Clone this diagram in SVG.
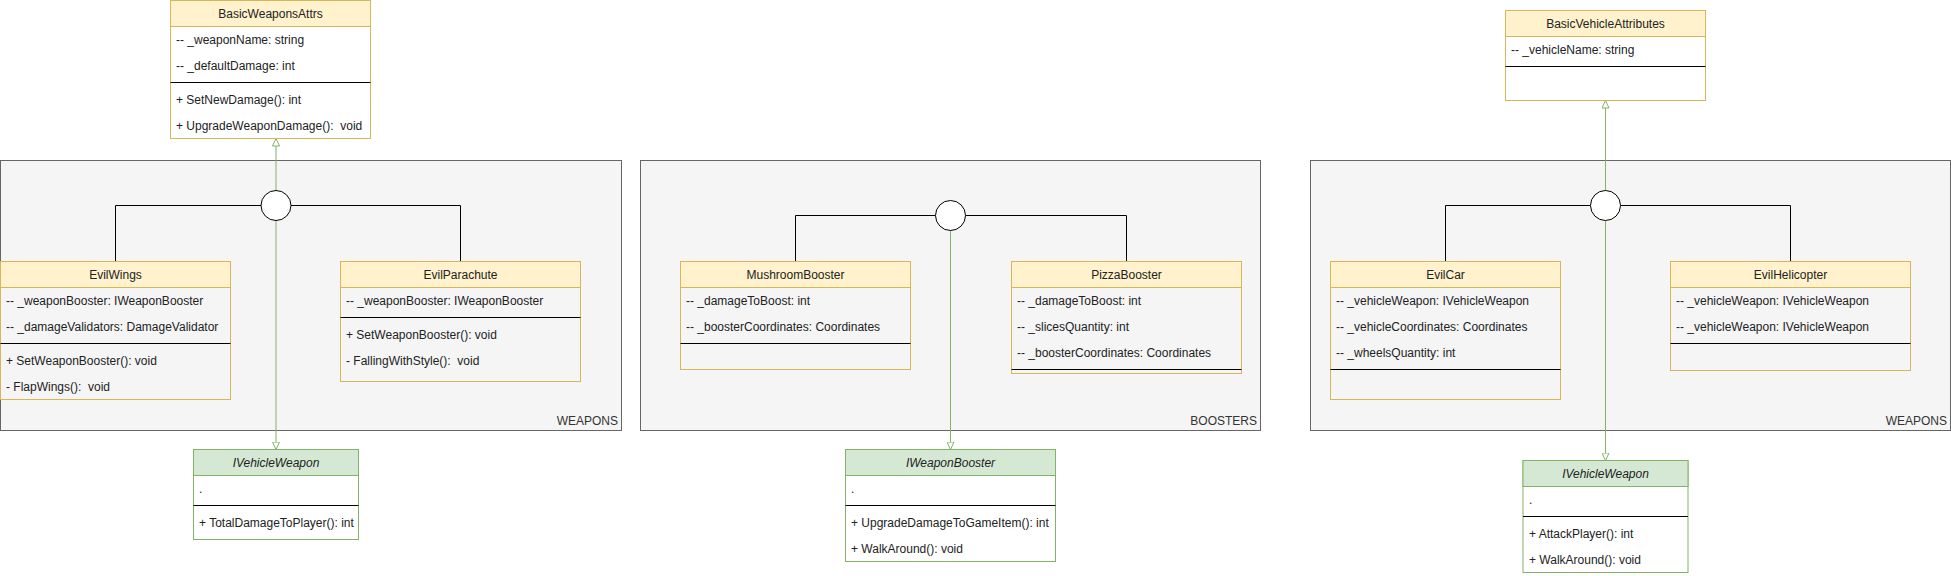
<svg xmlns="http://www.w3.org/2000/svg" width="1951" height="576" viewBox="0 0 1951 576">
<style>
text{font-family:"Liberation Sans",Arial,Helvetica,sans-serif;font-size:12px;fill:#222}
.t{text-anchor:middle}
.it{font-style:italic}
.lbl{text-anchor:end;fill:#333}
.cont{fill:#f5f5f5;stroke:#666666;stroke-width:1}
.hy{fill:#fff2cc;stroke:#d6b656;stroke-width:1}
.by{fill:none;stroke:#d6b656;stroke-width:1}
.bw{fill:#ffffff;stroke:#d6b656;stroke-width:1}
.hg{fill:#d5e8d4;stroke:#82b366;stroke-width:1}
.bg{fill:#ffffff;stroke:#82b366;stroke-width:1}
.sep{stroke:#000;stroke-width:1}
.blk{fill:none;stroke:#000;stroke-width:1}
.grn{fill:none;stroke:#82b366;stroke-width:1;marker-end:url(#tri)}
.junc{fill:#fff;stroke:#000;stroke-width:1}
</style>
<defs>
<marker id="tri" viewBox="0 0 8 8" refX="8" refY="4" markerWidth="8" markerHeight="8" markerUnits="userSpaceOnUse" orient="auto">
<path d="M0.5,0.5 L8,4 L0.5,7.5 z" fill="#fff" stroke="#82b366" stroke-width="1"/>
</marker>
</defs>
<rect width="1951" height="576" fill="#fff"/>

<g id="container-weapons-left">
<rect class="cont" x="0.5" y="160.5" width="621" height="270"/>
<text class="lbl" x="618" y="425">WEAPONS</text>
</g>
<g id="container-boosters">
<rect class="cont" x="640.5" y="160.5" width="620" height="270"/>
<text class="lbl" x="1257" y="425">BOOSTERS</text>
</g>
<g id="container-weapons-right">
<rect class="cont" x="1310.5" y="160.5" width="640" height="270"/>
<text class="lbl" x="1947" y="425">WEAPONS</text>
</g>

<g id="connectors">
<path class="blk" d="M261,205.5 H115.5 V261.5"/>
<path class="blk" d="M291,205.5 H460.5 V261.5"/>
<path class="grn" d="M276,190.5 V138.5"/>
<path class="grn" d="M276,220.5 V449.5"/>
<path class="blk" d="M935.5,215.5 H795.5 V261.5"/>
<path class="blk" d="M965.5,215.5 H1126.5 V261.5"/>
<path class="grn" d="M950.5,230.5 V449.5"/>
<path class="blk" d="M1590.5,205.5 H1445.5 V261.5"/>
<path class="blk" d="M1620.5,205.5 H1790.5 V261.5"/>
<path class="grn" d="M1605.5,190.5 V100.5"/>
<path class="grn" d="M1605.5,220.5 V460.5"/>
</g>

<g id="junction-left"><ellipse class="junc" cx="276" cy="205.5" rx="15" ry="15"/></g>
<g id="junction-middle"><ellipse class="junc" cx="950.5" cy="215.5" rx="15" ry="15"/></g>
<g id="junction-right"><ellipse class="junc" cx="1605.5" cy="205.5" rx="15" ry="15"/></g>

<g id="BasicWeaponsAttrs">
<rect class="bw" x="170.5" y="0.5" width="200" height="138"/>
<rect class="hy" x="170.5" y="0.5" width="200" height="26"/>
<text class="t" x="270.5" y="18">BasicWeaponsAttrs</text>
<text x="176" y="44">-- _weaponName: string</text>
<text x="176" y="70">-- _defaultDamage: int</text>
<line class="sep" x1="170.5" y1="82.5" x2="370.5" y2="82.5"/>
<text x="176" y="104">+ SetNewDamage(): int</text>
<text x="176" y="130" xml:space="preserve">+ UpgradeWeaponDamage():  void</text>
</g>

<g id="EvilWings">
<rect class="by" x="0.5" y="261.5" width="230" height="138"/>
<rect class="hy" x="0.5" y="261.5" width="230" height="26"/>
<text class="t" x="115.5" y="279">EvilWings</text>
<text x="6" y="305">-- _weaponBooster: IWeaponBooster</text>
<text x="6" y="331">-- _damageValidators: DamageValidator</text>
<line class="sep" x1="0.5" y1="343.5" x2="230.5" y2="343.5"/>
<text x="6" y="365">+ SetWeaponBooster(): void</text>
<text x="6" y="391" xml:space="preserve">- FlapWings():  void</text>
</g>

<g id="EvilParachute">
<rect class="by" x="340.5" y="261.5" width="240" height="120"/>
<rect class="hy" x="340.5" y="261.5" width="240" height="26"/>
<text class="t" x="460.5" y="279">EvilParachute</text>
<text x="346" y="305">-- _weaponBooster: IWeaponBooster</text>
<line class="sep" x1="340.5" y1="317.5" x2="580.5" y2="317.5"/>
<text x="346" y="339">+ SetWeaponBooster(): void</text>
<text x="346" y="365" xml:space="preserve">- FallingWithStyle():  void</text>
</g>

<g id="IVehicleWeapon-left">
<rect class="bg" x="193.5" y="449.5" width="165" height="90"/>
<rect class="hg" x="193.5" y="449.5" width="165" height="26"/>
<text class="t it" x="276" y="467">IVehicleWeapon</text>
<text x="199" y="493">.</text>
<line class="sep" x1="193.5" y1="505.5" x2="358.5" y2="505.5"/>
<text x="199" y="527">+ TotalDamageToPlayer(): int</text>
</g>

<g id="MushroomBooster">
<rect class="by" x="680.5" y="261.5" width="230" height="108"/>
<rect class="hy" x="680.5" y="261.5" width="230" height="26"/>
<text class="t" x="795.5" y="279">MushroomBooster</text>
<text x="686" y="305">-- _damageToBoost: int</text>
<text x="686" y="331">-- _boosterCoordinates: Coordinates</text>
<line class="sep" x1="680.5" y1="343.5" x2="910.5" y2="343.5"/>
</g>

<g id="PizzaBooster">
<rect class="by" x="1011.5" y="261.5" width="230" height="112"/>
<rect class="hy" x="1011.5" y="261.5" width="230" height="26"/>
<text class="t" x="1126.5" y="279">PizzaBooster</text>
<text x="1017" y="305">-- _damageToBoost: int</text>
<text x="1017" y="331">-- _slicesQuantity: int</text>
<text x="1017" y="357">-- _boosterCoordinates: Coordinates</text>
<line class="sep" x1="1011.5" y1="369.5" x2="1241.5" y2="369.5"/>
</g>

<g id="IWeaponBooster">
<rect class="bg" x="845.5" y="449.5" width="210" height="112"/>
<rect class="hg" x="845.5" y="449.5" width="210" height="26"/>
<text class="t it" x="950.5" y="467">IWeaponBooster</text>
<text x="851" y="493">.</text>
<line class="sep" x1="845.5" y1="505.5" x2="1055.5" y2="505.5"/>
<text x="851" y="527">+ UpgradeDamageToGameItem(): int</text>
<text x="851" y="553">+ WalkAround(): void</text>
</g>

<g id="BasicVehicleAttributes">
<rect class="bw" x="1505.5" y="10.5" width="200" height="90"/>
<rect class="hy" x="1505.5" y="10.5" width="200" height="26"/>
<text class="t" x="1605.5" y="28">BasicVehicleAttributes</text>
<text x="1511" y="54">-- _vehicleName: string</text>
<line class="sep" x1="1505.5" y1="66.5" x2="1705.5" y2="66.5"/>
</g>

<g id="EvilCar">
<rect class="by" x="1330.5" y="261.5" width="230" height="138"/>
<rect class="hy" x="1330.5" y="261.5" width="230" height="26"/>
<text class="t" x="1445.5" y="279">EvilCar</text>
<text x="1336" y="305">-- _vehicleWeapon: IVehicleWeapon</text>
<text x="1336" y="331">-- _vehicleCoordinates: Coordinates</text>
<text x="1336" y="357">-- _wheelsQuantity: int</text>
<line class="sep" x1="1330.5" y1="369.5" x2="1560.5" y2="369.5"/>
</g>

<g id="EvilHelicopter">
<rect class="by" x="1670.5" y="261.5" width="240" height="109"/>
<rect class="hy" x="1670.5" y="261.5" width="240" height="26"/>
<text class="t" x="1790.5" y="279">EvilHelicopter</text>
<text x="1676" y="305">-- _vehicleWeapon: IVehicleWeapon</text>
<text x="1676" y="331">-- _vehicleWeapon: IVehicleWeapon</text>
<line class="sep" x1="1670.5" y1="343.5" x2="1910.5" y2="343.5"/>
</g>

<g id="IVehicleWeapon-right">
<rect class="bg" x="1523" y="460.5" width="165" height="112"/>
<rect class="hg" x="1523" y="460.5" width="165" height="26"/>
<text class="t it" x="1605.5" y="478">IVehicleWeapon</text>
<text x="1529" y="504">.</text>
<line class="sep" x1="1523" y1="516.5" x2="1688" y2="516.5"/>
<text x="1529" y="538">+ AttackPlayer(): int</text>
<text x="1529" y="564">+ WalkAround(): void</text>
</g>
</svg>
